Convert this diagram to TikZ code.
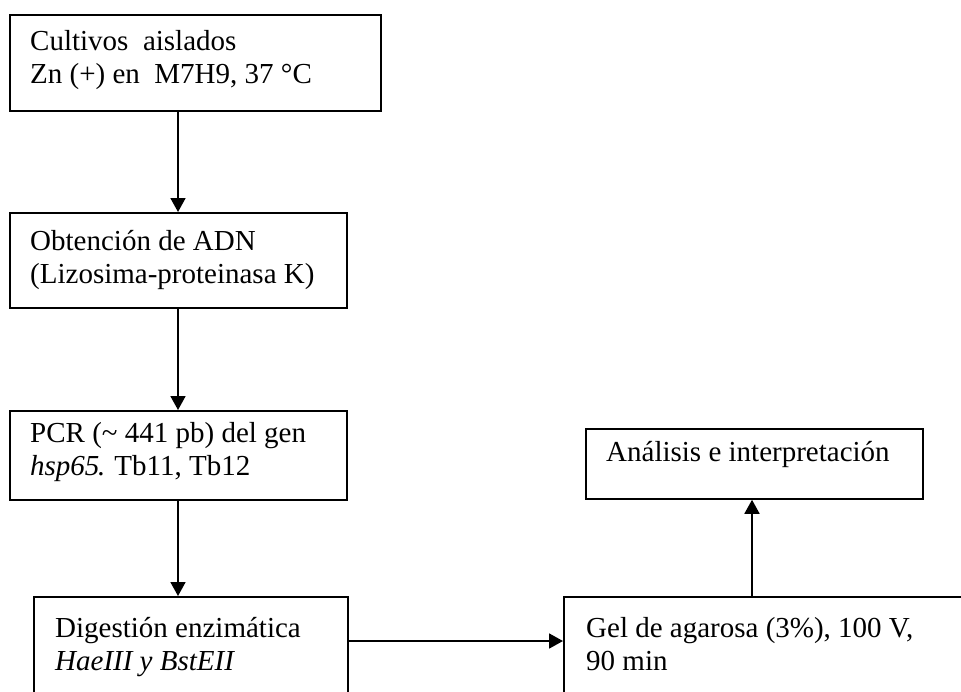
\documentclass[tikz,border=0pt]{standalone}
\usepackage{fontspec}
\setmainfont{Liberation Serif}
\usetikzlibrary{arrows.meta}
\begin{document}
\begin{tikzpicture}[x=1pt,y=-1pt,
  box/.style={draw, line width=1.8pt, inner sep=0pt, anchor=north west},
  txt/.style={anchor=base west, inner sep=0pt, font=\fontsize{29}{33}\selectfont},
  conn/.style={line width=1.8pt, -{Triangle[length=14pt,width=15pt]}}]
\useasboundingbox (0,0) rectangle (961,691);
\clip (0,0) rectangle (961,691);
\node[box, minimum width=371pt, minimum height=96pt] (b1) at (9,14) {};
\node[box, minimum width=337pt, minimum height=95pt] (b2) at (9,212) {};
\node[box, minimum width=337pt, minimum height=89pt] (b3) at (9,410) {};
\node[box, minimum width=314pt, minimum height=120pt] (b4) at (33,596) {};
\node[box, minimum width=420pt, minimum height=120pt] (b5) at (563,596) {};
\node[box, minimum width=337pt, minimum height=70pt] (b6) at (585,428) {};

\node[txt] (t1a) at (30,50) {Cultivos\ \ aislados};
\node[txt] (t1b) at (30,83) {Zn (+) en\ \ M7H9, 37 °C};
\node[txt] (t2a) at (30,250) {Obtención de ADN};
\node[txt] (t2b) at (30,283) {(Lizosima-proteinasa K)};
\node[txt] (t3a) at (30,442) {PCR (\textasciitilde{} 441 pb) del gen};
\node[txt] (t3b) at (30,475) {\textit{hsp65}\kern-2pt. Tb11, Tb12};
\node[txt] (t4a) at (55,637) {Digestión enzimática};
\node[txt] (t4b) at (55,670) {\textit{HaeIII y BstEII}};
\node[txt] (t5a) at (586,637) {Gel de agarosa (3\%), 100 V,};
\node[txt] (t5b) at (586,670) {90 min};
\node[txt] (t6) at (606,461) {Análisis e interpretación};

\draw[conn] ([xshift=169pt]b1.south west) -- ([xshift=169pt]b2.north west);
\draw[conn] ([xshift=169pt]b2.south west) -- ([xshift=169pt]b3.north west);
\draw[conn] ([xshift=169pt]b3.south west) -- ([xshift=145pt]b4.north west);
\draw[conn] ([yshift=-45pt]b4.north east) -- ([yshift=-45pt]b4.north east -| b5.west);
\draw[conn] ([xshift=189pt]b5.north west) -- ([xshift=189pt]b5.north west |- b6.south);
\end{tikzpicture}
\end{document}
